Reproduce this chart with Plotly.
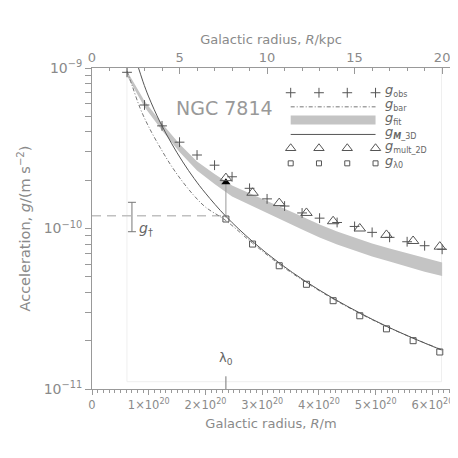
import plotly.graph_objects as go

KPC = 3.0857e19  # metres per kpc

# observed accelerations at R = 2..20 kpc (units of 1e-10 m/s^2)
r_obs_kpc = list(range(2, 21))
g_obs = [9.40, 5.88, 4.36, 3.45, 2.87, 2.48, 2.10, 1.78, 1.53, 1.38,
         1.25, 1.16, 1.09, 1.03, 0.946, 0.881, 0.827, 0.781, 0.742]

# fitted band (lower / upper edge) at the same radii
fit_lo = [8.92, 5.71, 4.08, 3.00, 2.30, 1.893, 1.582, 1.401, 1.245, 1.109,
          0.987, 0.880, 0.796, 0.730, 0.668, 0.622, 0.578, 0.538, 0.506]
fit_hi = [9.58, 6.23, 4.51, 3.36, 2.615, 2.186, 1.853, 1.664, 1.489, 1.327,
          1.187, 1.058, 0.957, 0.878, 0.807, 0.751, 0.700, 0.652, 0.613]

# g_M_3D curve (R in 1e20 m)
r_m3d = [0.75, 0.82, 0.9, 1.0, 1.2, 1.4, 1.6, 1.8, 2.0, 2.36, 2.83, 3.3,
         3.77, 4.24, 4.71, 5.18, 5.65, 6.16]
g_m3d = [11.8, 10.0, 8.2, 6.6, 4.6, 3.4, 2.6, 2.05, 1.66, 1.19, 0.83, 0.61,
         0.467, 0.369, 0.299, 0.247, 0.208, 0.175]

# baryonic curve
r_bar = [0.616, 0.7, 0.85, 1.0, 1.2, 1.4, 1.6, 1.8, 2.0, 2.36, 2.83, 3.3,
         3.77, 4.24, 4.71, 5.18, 5.65, 6.16]
g_bar = [9.6, 7.9, 5.6, 4.3, 3.2, 2.45, 1.95, 1.6, 1.36, 1.12, 0.81, 0.60,
         0.462, 0.366, 0.297, 0.246, 0.208, 0.176]

# multiples of lambda0
r_mult = [2.36, 2.83, 3.30, 3.78, 4.25, 4.72, 5.19, 5.66, 6.13]
g_mult = [2.06, 1.67, 1.44, 1.25, 1.11, 1.00, 0.912, 0.836, 0.771]
g_lam = [1.146, 0.800, 0.586, 0.449, 0.355, 0.286, 0.237, 0.200, 0.170]

lambda0 = 2.36
g_dagger = 1.20
g_dagger_up = 0.256
g_dagger_dn = 0.245
g_arrow = 1.94
box_r = [0.616, 6.16]
box_g_low = 0.111

E20 = 1e20
E10 = 1e-10
DARK = "#555555"
GREY = "#8a8a8a"
FONT = "DejaVu Sans"

r_obs = [k * KPC for k in r_obs_kpc]

fig = go.Figure()

# faint data-range box
fig.add_trace(go.Scatter(
    x=[box_r[0] * E20, box_r[0] * E20, box_r[1] * E20, box_r[1] * E20],
    y=[1e-9, box_g_low * E10, box_g_low * E10, 1e-9],
    mode="lines", line=dict(color="#efefef", width=1), hoverinfo="skip"))

# fit band
fig.add_trace(go.Scatter(x=r_obs, y=[v * E10 for v in fit_lo], mode="lines",
                         line=dict(width=0, color="#c4c4c4")))
fig.add_trace(go.Scatter(x=r_obs, y=[v * E10 for v in fit_hi], mode="lines",
                         line=dict(width=0, color="#c4c4c4"),
                         fill="tonexty", fillcolor="#c4c4c4"))

# g_dagger dashed line and error bar
fig.add_trace(go.Scatter(x=[0, lambda0 * E20], y=[g_dagger * E10] * 2, mode="lines",
                         line=dict(color="#c0c0c0", width=1.5, dash="9px,6px")))
fig.add_trace(go.Scatter(
    x=[0.704 * E20], y=[g_dagger * E10], mode="markers",
    marker=dict(size=1, color="rgba(0,0,0,0)"),
    error_y=dict(type="data", symmetric=False, array=[g_dagger_up * E10],
                 arrayminus=[g_dagger_dn * E10], color="#777777",
                 thickness=1, width=4)))

# curves
fig.add_trace(go.Scatter(x=[r * E20 for r in r_bar], y=[v * E10 for v in g_bar],
                         mode="lines", line_shape="spline",
                         line=dict(color="#777777", width=1, dash="4px,2px,1px,2px")))
fig.add_trace(go.Scatter(x=[r * E20 for r in r_m3d], y=[v * E10 for v in g_m3d],
                         mode="lines", line_shape="spline",
                         line=dict(color=DARK, width=1)))

# arrow from g_lambda0 to g_mult at lambda0
fig.add_trace(go.Scatter(x=[lambda0 * E20] * 2, y=[g_lam[0] * 1.02 * E10, g_arrow * E10],
                         mode="lines", line=dict(color="#999999", width=1)))
fig.add_trace(go.Scatter(x=[lambda0 * E20], y=[g_arrow * E10], mode="markers",
                         marker=dict(symbol="triangle-up", size=8, color="black")))

# markers
fig.add_trace(go.Scatter(x=r_obs, y=[v * E10 for v in g_obs], mode="markers",
                         marker=dict(symbol="cross-thin", size=7,
                                     line=dict(color=DARK, width=1))))
fig.add_trace(go.Scatter(x=[r * E20 for r in r_mult], y=[v * E10 for v in g_mult],
                         mode="markers",
                         marker=dict(symbol="triangle-up-open", size=10, color=DARK,
                                     line=dict(width=1))))
fig.add_trace(go.Scatter(x=[r * E20 for r in r_mult], y=[v * E10 for v in g_lam],
                         mode="markers",
                         marker=dict(symbol="square-open", size=6, color=DARK,
                                     line=dict(width=1))))

# lambda0 tick on the bottom axis
fig.add_trace(go.Scatter(x=[lambda0 * E20] * 2, y=[1e-11, 1.2e-11], mode="lines",
                         line=dict(color="#777777", width=1)))

# legend drawn on an overlay axis (0..1 in plot area)
lx = [0.555, 0.634, 0.713, 0.792]
rows = [0.923, 0.879, 0.838, 0.793, 0.750, 0.703]
fig.add_trace(go.Scatter(x=lx, y=[rows[0]] * 4, xaxis="x3", yaxis="y3", mode="markers",
                         marker=dict(symbol="cross-thin", size=7,
                                     line=dict(color=DARK, width=1))))
fig.add_trace(go.Scatter(x=[lx[0], lx[3]], y=[rows[1]] * 2, xaxis="x3", yaxis="y3",
                         mode="lines",
                         line=dict(color="#777777", width=1, dash="4px,2px,1px,2px")))
fig.add_trace(go.Scatter(x=[lx[0], lx[3]], y=[rows[2]] * 2, xaxis="x3", yaxis="y3",
                         mode="lines", line=dict(color="#c4c4c4", width=9)))
fig.add_trace(go.Scatter(x=[lx[0], lx[3]], y=[rows[3]] * 2, xaxis="x3", yaxis="y3",
                         mode="lines", line=dict(color=DARK, width=1)))
fig.add_trace(go.Scatter(x=lx, y=[rows[4]] * 4, xaxis="x3", yaxis="y3", mode="markers",
                         marker=dict(symbol="triangle-up-open", size=9, color=DARK,
                                     line=dict(width=1))))
fig.add_trace(go.Scatter(x=lx, y=[rows[5]] * 4, xaxis="x3", yaxis="y3", mode="markers",
                         marker=dict(symbol="square-open", size=5, color=DARK,
                                     line=dict(width=1))))


def sub(t):
    return f'<sub><span style="font-size:8px">{t}</span></sub>'


labels = ["<i>g</i>" + sub("obs"), "<i>g</i>" + sub("bar"), "<i>g</i>" + sub("fit"),
          "<i>g</i>" + sub("<b><i>M</i></b>_3D"), "<i>g</i>" + sub("mult_2D"),
          "<i>g</i>" + sub("λ0")]
annotations = []
for lab, ry in zip(labels, rows):
    annotations.append(dict(x=0.812, y=ry + 0.006, xref="paper", yref="paper", text=lab,
                            showarrow=False, xanchor="left", yanchor="middle",
                            font=dict(family=FONT, size=13, color="#666666")))
annotations.append(dict(x=0.37, y=0.915, xref="paper", yref="paper", text="NGC 7814",
                        showarrow=False, font=dict(family=FONT, size=19, color="#999999")))
annotations.append(dict(x=0.80 * E20, y=0.50, xref="x", yref="paper",
                        text="<i>g</i><sub>†</sub>", showarrow=False, xanchor="left",
                        font=dict(family=FONT, size=14, color="#666666")))
annotations.append(dict(x=lambda0 * E20, y=0.062, xref="x", yref="paper",
                        text="λ<sub>0</sub>", showarrow=False, yanchor="bottom",
                        font=dict(family=FONT, size=13, color="#666666")))

axis_font = dict(family=FONT, size=13, color=GREY)

# the page adds an 8 px offset, so the figure is 450 px and margins are shifted
fig.update_layout(
    width=450, height=450,
    margin=dict(l=84, r=8, t=60, b=69, autoexpand=False),
    paper_bgcolor="white", plot_bgcolor="white",
    showlegend=False,
    annotations=annotations,
    xaxis=dict(
        range=[0, 6.31e20], showline=True, linecolor="#999999", showgrid=False,
        zeroline=False, ticks="outside", ticklen=5, tickcolor="#999999",
        automargin=False,
        tickmode="array", tickvals=[i * E20 for i in range(7)],
        ticktext=["0"] + [f"{i}×10<sup>20</sup>" for i in range(1, 7)],
        minor=dict(tickmode="linear", tick0=0, dtick=1e19, ticks="outside",
                   ticklen=3, tickcolor="#999999"),
        tickfont=dict(family=FONT, size=11.5, color=GREY),
        title=dict(text="Galactic radius, <i>R</i>/m", font=axis_font, standoff=8),
    ),
    xaxis2=dict(
        range=[0, 6.31e20 / KPC], overlaying="x", side="top", anchor="y",
        showline=True, linecolor="#999999", showgrid=False, zeroline=False,
        ticks="inside", ticklen=6, tickcolor="#999999", automargin=False,
        tickvals=[0, 5, 10, 15, 20],
        minor=dict(tickmode="linear", tick0=0, dtick=1, ticks="inside",
                   ticklen=3, tickcolor="#999999"),
        tickfont=dict(family=FONT, size=13, color=GREY),
        title=dict(text="Galactic radius, <i>R</i>/kpc", font=axis_font, standoff=2),
    ),
    yaxis=dict(
        type="log", range=[-11, -9], showline=True, linecolor="#999999",
        mirror="allticks", showgrid=False, zeroline=False,
        ticks="outside", ticklen=6, tickcolor="#999999", automargin=False,
        tickmode="array", tickvals=[1e-11, 1e-10, 1e-9],
        ticktext=["10<sup>−11</sup>", "10<sup>−10</sup>", "10<sup>−9</sup>"],
        minor=dict(tickvals=[k * 1e-11 for k in range(2, 10)] +
                   [k * 1e-10 for k in range(2, 10)],
                   ticks="outside", ticklen=3, tickcolor="#999999"),
        tickfont=dict(family=FONT, size=14, color=GREY),
        title=dict(text="Acceleration, <i>g</i>/(m s<sup>−2</sup>)",
                   font=dict(family=FONT, size=14.5, color=GREY), standoff=9),
    ),
    xaxis3=dict(range=[0, 1], overlaying="x", anchor="y3", visible=False),
    yaxis3=dict(range=[0, 1], overlaying="y", anchor="x3", visible=False),
)

# tie the kpc axis to a dummy trace so it is shown
fig.add_trace(go.Scatter(x=[0], y=[1e-9], xaxis="x2", mode="markers",
                         marker=dict(size=1, color="rgba(0,0,0,0)"), hoverinfo="skip"))

fig.write_html("out.html")
